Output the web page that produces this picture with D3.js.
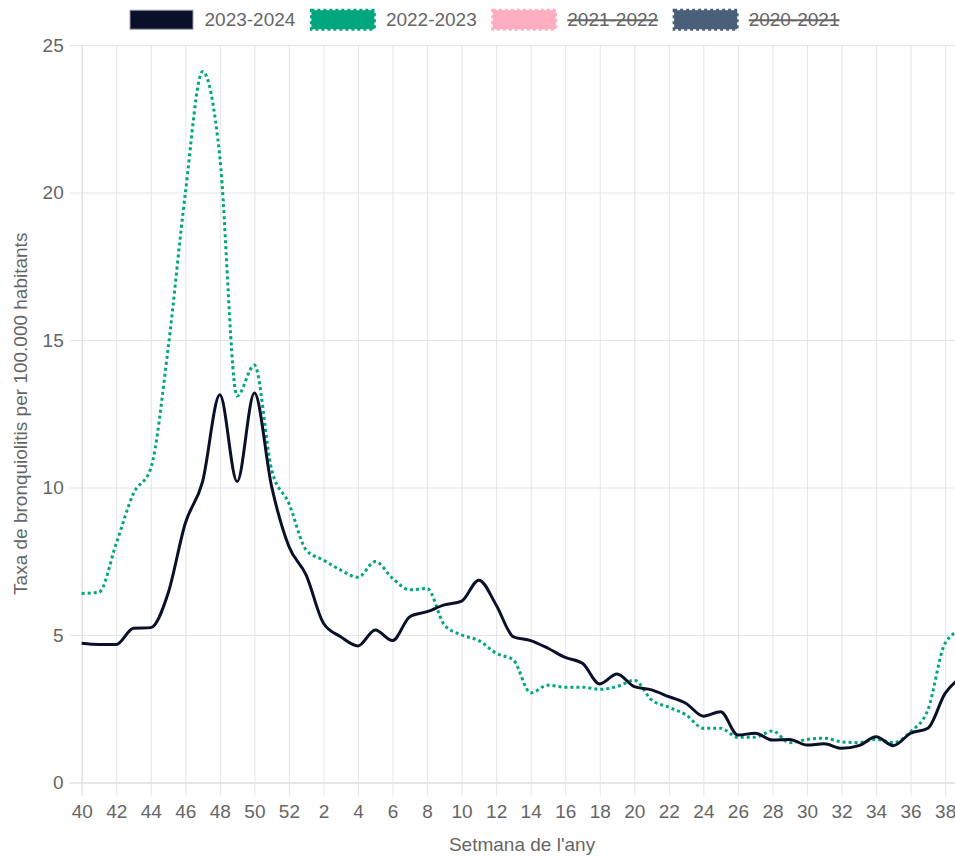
<!DOCTYPE html>
<html>
<head>
<meta charset="utf-8">
<script src="https://cdn.jsdelivr.net/npm/d3@7"></script>
<style>
  html, body { margin: 0; padding: 0; background: #fff; }
  svg { display: block; font-family: "Liberation Sans", Arial, Helvetica, sans-serif; }
</style>
</head>
<body>
<svg id="chart" width="955" height="857"></svg>
<script>
// ---------- DATA ----------
const weeks = ["40","41","42","43","44","45","46","47","48","49","50","51","52",
  "1","2","3","4","5","6","7","8","9","10","11","12","13","14","15","16","17","18","19","20",
  "21","22","23","24","25","26","27","28","29","30","31","32","33","34","35","36","37","38","39"];
const xTickLabels = ["40","42","44","46","48","50","52","2","4","6","8","10","12","14","16","18",
  "20","22","24","26","28","30","32","34","36","38"];
const yTickValues = [0, 5, 10, 15, 20, 25];

const season2023_2024 = [4.72, 4.68, 4.68, 5.23, 5.25, 6.41, 8.79, 10.2, 13.14, 10.2, 13.2, 10.03, 8.0,
  7.03, 5.4, 4.94, 4.63, 5.17, 4.81, 5.62, 5.79, 6.02, 6.15,
  6.86, 6.02, 4.94, 4.81, 4.55, 4.24, 4.04, 3.34, 3.68, 3.25,
  3.14, 2.91, 2.68, 2.25, 2.4, 1.61, 1.67, 1.44, 1.46, 1.27,
  1.31, 1.16, 1.25, 1.55, 1.25, 1.67, 1.84, 3.02, 3.6];
const season2022_2023 = [6.41, 6.45, 8.1, 9.8, 10.65, 14.7, 19.97, 24.1, 21.2, 13.1, 14.15, 10.6, 9.46,
  7.88, 7.54, 7.2, 6.96, 7.49, 6.92, 6.53, 6.58, 5.34, 5.0,
  4.81, 4.38, 4.15, 3.04, 3.3, 3.23, 3.23, 3.16, 3.25, 3.47,
  2.8, 2.55, 2.29, 1.84, 1.84, 1.53, 1.53, 1.75, 1.35, 1.46,
  1.5, 1.38, 1.35, 1.46, 1.35, 1.72, 2.46, 4.72, 5.2];

const legendLabels = ["2023-2024", "2022-2023", "2021-2022", "2020-2021"];
const legendHidden = [false, false, true, true];
const legendColors = ["#0a1029", "#00a67e", "#ffadc0", "#4a6078"];
const legendDotted = [false, true, true, true];

const yTitle = "Taxa de bronquiolitis per 100.000 habitants";
const xTitle = "Setmana de l'any";

// ---------- LAYOUT ----------
const svg = d3.select("#chart");
const plot = { left: 81.7, right: 962.4, top: 45, bottom: 782.5 };
const fontSize = 19;
const textColor = "#666";
const gridColor = "#e5e5e5";

const x = d3.scalePoint().domain(weeks).range([plot.left, plot.right]);
const y = d3.scaleLinear().domain([0, 25]).range([plot.bottom, plot.top]);

// vertical grid
svg.append("g")
  .attr("transform", `translate(0,${plot.bottom})`)
  .call(d3.axisBottom(x).tickValues(xTickLabels).tickSize(-(plot.bottom - plot.top)).tickFormat(""))
  .call(g => g.select(".domain").remove())
  .call(g => g.selectAll("line").attr("stroke", gridColor));

// horizontal grid
svg.append("g")
  .attr("transform", `translate(${plot.left},0)`)
  .call(d3.axisLeft(y).tickValues(yTickValues).tickSize(-(plot.right - plot.left)).tickFormat(""))
  .call(g => g.select(".domain").remove())
  .call(g => g.selectAll("line").attr("stroke", gridColor));

// x axis
svg.append("g")
  .attr("transform", `translate(0,${plot.bottom})`)
  .call(d3.axisBottom(x).tickValues(xTickLabels).tickSize(13).tickPadding(9.5))
  .call(g => g.select(".domain").attr("stroke", "#dcdcdc"))
  .call(g => g.selectAll("line").attr("stroke", gridColor))
  .call(g => g.selectAll("text").attr("fill", textColor).attr("font-size", fontSize).attr("font-family", null));

// y axis
svg.append("g")
  .attr("transform", `translate(${plot.left},0)`)
  .call(d3.axisLeft(y).tickValues(yTickValues).tickSize(12).tickPadding(6))
  .call(g => g.select(".domain").attr("stroke", "#dcdcdc"))
  .call(g => g.selectAll("line").attr("stroke", gridColor))
  .call(g => g.selectAll("text").attr("fill", textColor).attr("font-size", fontSize).attr("font-family", null));

// axis titles
svg.append("text")
  .attr("x", (plot.left + plot.right) / 2)
  .attr("y", 851)
  .attr("text-anchor", "middle")
  .attr("fill", textColor)
  .attr("font-size", fontSize)
  .text(xTitle);

svg.append("text")
  .attr("transform", `translate(27,${(plot.top + plot.bottom) / 2}) rotate(-90)`)
  .attr("text-anchor", "middle")
  .attr("fill", textColor)
  .attr("font-size", fontSize)
  .text(yTitle);

// lines
const line = d3.line()
  .x((d, i) => x(weeks[i]))
  .y(d => y(d))
  .curve(d3.curveMonotoneX);

svg.append("path")
  .datum(season2022_2023)
  .attr("fill", "none")
  .attr("stroke", legendColors[1])
  .attr("stroke-width", 3)
  .attr("stroke-dasharray", "3,3")
  .attr("d", line);

svg.append("path")
  .datum(season2023_2024)
  .attr("fill", "none")
  .attr("stroke", legendColors[0])
  .attr("stroke-width", 3)
  .attr("stroke-linejoin", "round")
  .attr("d", line);

// legend
const boxW = 66, boxH = 22, boxGap = 10, itemPad = 14.5, legendCenter = 484, boxTop = 8.7;
const legend = svg.append("g");
const items = legendLabels.map((lab, i) => {
  const g = legend.append("g");
  const t = g.append("text")
    .attr("x", boxW + boxGap)
    .attr("y", boxTop + boxH / 2 + 6.6)
    .attr("fill", textColor)
    .attr("font-size", fontSize)
    .text(lab);
  const tw = t.node().getComputedTextLength();
  g.insert("rect", "text")
    .attr("x", 1.5).attr("y", boxTop + 1.5)
    .attr("width", boxW - 3).attr("height", boxH - 3)
    .attr("fill", legendColors[i])
    .attr("stroke", legendDotted[i] ? legendColors[i] : "#9aa0aa")
    .attr("stroke-width", legendDotted[i] ? 3 : 1)
    .attr("stroke-dasharray", legendDotted[i] ? "3,3" : null);
  if (legendHidden[i]) {
    g.append("line")
      .attr("x1", boxW + boxGap).attr("x2", boxW + boxGap + tw)
      .attr("y1", boxTop + boxH / 2 + 0.5).attr("y2", boxTop + boxH / 2 + 0.5)
      .attr("stroke", textColor).attr("stroke-width", 2);
  }
  return { g, w: boxW + boxGap + tw };
});
const total = d3.sum(items, d => d.w) + itemPad * (items.length - 1);
let cx = legendCenter - total / 2;
items.forEach(it => {
  it.g.attr("transform", `translate(${cx},0)`);
  cx += it.w + itemPad;
});
</script>
</body>
</html>
